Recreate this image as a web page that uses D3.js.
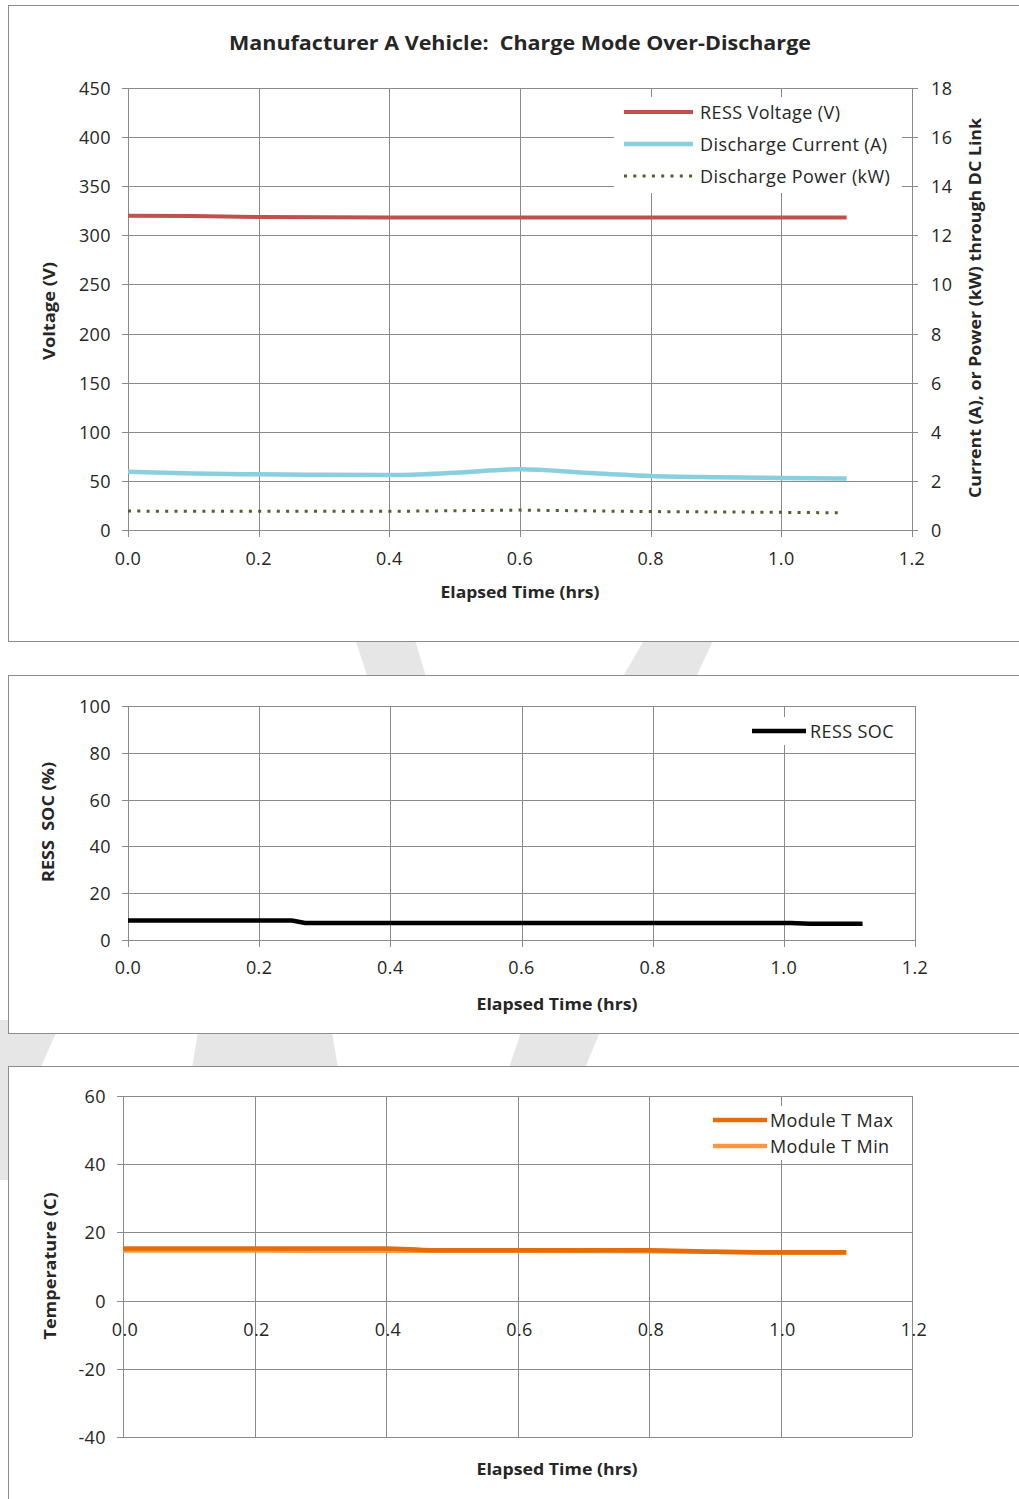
<!DOCTYPE html>
<html><head><meta charset="utf-8">
<script src="https://cdn.jsdelivr.net/npm/d3@7"></script>
<style>
html,body{margin:0;padding:0;background:#fff;}
svg{display:block;font-family:"Open Sans",sans-serif;}
text{white-space:pre;}
</style></head>
<body><svg id="c" width="1019" height="1499"></svg>
<script>
// ---- Data ----
const xTicks = [0, 0.2, 0.4, 0.6, 0.8, 1.0, 1.2];

const timeV = [0, 0.1, 0.2, 0.3, 0.4, 0.5, 0.6, 0.7, 0.8, 0.9, 1.0, 1.1];
const ressVoltage = [320, 319.7, 318.6, 318.3, 318.2, 318.2, 318.2, 318.2, 318.2, 318.2, 318.2, 318.2];
const dischargeCurrent = [2.37, 2.3, 2.27, 2.25, 2.24, 2.33, 2.47, 2.33, 2.2, 2.15, 2.12, 2.1];
const timeP = [0, 0.2, 0.4, 0.6, 0.8, 1.0, 1.09];
const dischargePower = [0.77, 0.76, 0.76, 0.81, 0.75, 0.72, 0.70];
const voltTicks = [0, 50, 100, 150, 200, 250, 300, 350, 400, 450];
const rightTicks = [0, 2, 4, 6, 8, 10, 12, 14, 16, 18];

const timeSOC = [0, 0.25, 0.27, 1.01, 1.04, 1.12];
const ressSOC = [8.3, 8.3, 7.3, 7.3, 6.9, 6.9];
const socTicks = [0, 20, 40, 60, 80, 100];

const timeT = [0, 0.2, 0.4, 0.47, 0.6, 0.8, 0.9, 1.0, 1.1];
const moduleTMax = [15.3, 15.3, 15.3, 14.8, 14.8, 14.8, 14.3, 14.2, 14.2];
const moduleTMin = [14.7, 14.7, 14.6, 14.6, 14.6, 14.5, 14.3, 14.0, 14.0];
const tempTicks = [-40, -20, 0, 20, 40, 60];

const svg = d3.select("#c");
const GRID = "#8a8a8a", TXT = "#262626";
const fmt1 = d3.format(".1f");

// ---- watermark (faint) ----
const wm = svg.append("g").attr("fill", "#e6e6e6");
[
  [[352,630],[412,630],[430,690],[372,690]],
  [[650,630],[718,630],[690,690],[615,690]],
  [[0,1020],[62,1020],[35,1080],[0,1080]],
  [[200,1020],[330,1020],[340,1080],[190,1080]],
  [[525,1020],[605,1020],[580,1080],[505,1080]],
  [[0,1066],[12,1066],[12,1180],[0,1180]]
].forEach(p => wm.append("polygon").attr("points", p.map(d => d.join(",")).join(" ")));

function panel(y0, h) {
  svg.append("rect").attr("x", 8.5).attr("y", y0 + 0.5).attr("width", 1030).attr("height", h)
    .attr("fill", "#fff").attr("stroke", "#8c8c8c").attr("stroke-width", 1);
}
panel(5, 636);
panel(675, 358);
panel(1066, 440);

function grid(g, x, y, xt, yt, tickLen) {
  const [x0, x1] = x.range(), [yb, yt0] = y.range();
  g.selectAll(".vg").data(xt).join("line").attr("class", "vg")
    .attr("x1", d => Math.round(x(d)) + 0.5).attr("x2", d => Math.round(x(d)) + 0.5)
    .attr("y1", yt0).attr("y2", yb + tickLen).attr("stroke", GRID);
  g.selectAll(".hg").data(yt).join("line").attr("class", "hg")
    .attr("y1", d => Math.round(y(d)) + 0.5).attr("y2", d => Math.round(y(d)) + 0.5)
    .attr("x1", x0 - 6).attr("x2", x1).attr("stroke", GRID);
}

function label(x, y, text, opts = {}) {
  const t = svg.append("text").attr("x", x).attr("y", y).text(text)
    .attr("fill", TXT).attr("font-size", opts.size || 18)
    .attr("text-anchor", opts.anchor || "middle").attr("dominant-baseline", "central");
  if (!opts.bold && !opts.len) t.attr("letter-spacing", 0.4);
  if (opts.bold) t.attr("font-weight", "bold");
  if (opts.rot) t.attr("transform", `rotate(-90,${x},${y})`);
  if (opts.len) t.attr("textLength", opts.len).attr("lengthAdjust", "spacingAndGlyphs");
  return t;
}

// ===== Chart 1 =====
{
  const x = d3.scaleLinear().domain([0, 1.2]).range([128, 912]);
  const yL = d3.scaleLinear().domain([0, 450]).range([530, 88]);
  const yR = d3.scaleLinear().domain([0, 18]).range([530, 88]);
  const g = svg.append("g");
  grid(g, x, yL, xTicks, voltTicks, 7);
  g.selectAll(".rt").data(rightTicks).join("line")
    .attr("x1", 912).attr("x2", 918)
    .attr("y1", d => Math.round(yR(d)) + 0.5).attr("y2", d => Math.round(yR(d)) + 0.5).attr("stroke", GRID);
  xTicks.forEach(v => label(x(v), 558, fmt1(v)));
  voltTicks.forEach(v => label(111, yL(v), v, {anchor: "end"}));
  rightTicks.forEach(v => label(931, yR(v), v, {anchor: "start"}));
  label(520, 42, "Manufacturer A Vehicle:  Charge Mode Over-Discharge", {bold: true, size: 20, len: 582});
  label(520, 592, "Elapsed Time (hrs)", {bold: true, size: 16, len: 159});
  label(49, 311, "Voltage (V)", {bold: true, size: 16, rot: true, len: 98});
  label(975, 308, "Current (A), or Power (kW) through DC Link", {bold: true, size: 16, rot: true, len: 380});

  const lv = d3.line().x((d, i) => x(timeV[i])).y(d => yL(d));
  g.append("path").datum(ressVoltage).attr("d", lv).attr("fill", "none")
    .attr("stroke", "#C0504D").attr("stroke-width", 4);
  const lc = d3.line().x((d, i) => x(timeV[i])).y(d => yR(d)).curve(d3.curveMonotoneX);
  g.append("path").datum(dischargeCurrent).attr("d", lc).attr("fill", "none")
    .attr("stroke", "#8ACFDE").attr("stroke-width", 4.5);
  const lp = d3.line().x((d, i) => x(timeP[i])).y(d => yR(d));
  g.append("path").datum(dischargePower).attr("d", lp).attr("fill", "none")
    .attr("stroke", "#4F6228").attr("stroke-width", 3).attr("stroke-dasharray", "3,6.3");

  const lg = svg.append("g");
  lg.append("rect").attr("x", 614).attr("y", 97).attr("width", 288).attr("height", 96).attr("fill", "#fff");
  const items = [["RESS Voltage (V)", "#C0504D", null, 4], ["Discharge Current (A)", "#8ACFDE", null, 4.5], ["Discharge Power (kW)", "#4F6228", "3,6.3", 3]];
  items.forEach((it, i) => {
    const yy = 112 + i * 32;
    const ln = lg.append("line").attr("x1", 624).attr("x2", 693).attr("y1", yy).attr("y2", yy)
      .attr("stroke", it[1]).attr("stroke-width", it[3]);
    if (it[2]) ln.attr("stroke-dasharray", it[2]);
    label(700, yy, it[0], {anchor: "start"});
  });
}

// ===== Chart 2 =====
{
  const x = d3.scaleLinear().domain([0, 1.2]).range([128, 915]);
  const y = d3.scaleLinear().domain([0, 100]).range([940, 706]);
  const g = svg.append("g");
  grid(g, x, y, xTicks, socTicks, 7);
  xTicks.forEach(v => label(x(v), 967, fmt1(v)));
  socTicks.forEach(v => label(111, y(v), v, {anchor: "end"}));
  label(557, 1004, "Elapsed Time (hrs)", {bold: true, size: 16, len: 161});
  label(48, 822, "RESS  SOC (%)", {bold: true, size: 16, rot: true, len: 120});
  const l = d3.line().x((d, i) => x(timeSOC[i])).y(d => y(d));
  g.append("path").datum(ressSOC).attr("d", l).attr("fill", "none")
    .attr("stroke", "#000").attr("stroke-width", 4.5);
  svg.append("rect").attr("x", 745).attr("y", 717).attr("width", 160).attr("height", 28).attr("fill", "#fff");
  svg.append("line").attr("x1", 752).attr("x2", 806).attr("y1", 731).attr("y2", 731)
    .attr("stroke", "#000").attr("stroke-width", 4.5);
  label(810, 731, "RESS SOC", {anchor: "start"});
}

// ===== Chart 3 =====
{
  const x = d3.scaleLinear().domain([0, 1.2]).range([123, 912]);
  const y = d3.scaleLinear().domain([-40, 60]).range([1437, 1096]);
  const g = svg.append("g");
  grid(g, x, y, xTicks, tempTicks, 0);
  g.selectAll(".xt").data(xTicks).join("line")
    .attr("x1", d => Math.round(x(d)) + 0.5).attr("x2", d => Math.round(x(d)) + 0.5)
    .attr("y1", y(0)).attr("y2", y(0) + 6).attr("stroke", GRID);
  xTicks.forEach(v => label(x(v) + 2, 1329, fmt1(v)));
  tempTicks.forEach(v => label(106, y(v), v, {anchor: "end"}));
  label(557, 1469, "Elapsed Time (hrs)", {bold: true, size: 16, len: 161});
  label(50, 1266, "Temperature (C)", {bold: true, size: 16, rot: true, len: 147});
  const lt = d3.line().x((d, i) => x(timeT[i])).y(d => y(d)).curve(d3.curveMonotoneX);
  g.append("path").datum(moduleTMin).attr("d", lt).attr("fill", "none")
    .attr("stroke", "#F79646").attr("stroke-width", 4.5);
  g.append("path").datum(moduleTMax).attr("d", lt).attr("fill", "none")
    .attr("stroke", "#E46C0A").attr("stroke-width", 4.5);
  svg.append("rect").attr("x", 706).attr("y", 1106).attr("width", 196).attr("height", 54).attr("fill", "#fff");
  [["Module T Max", "#E46C0A"], ["Module T Min", "#F79646"]].forEach((it, i) => {
    const yy = 1120 + i * 26;
    svg.append("line").attr("x1", 713).attr("x2", 767).attr("y1", yy).attr("y2", yy)
      .attr("stroke", it[1]).attr("stroke-width", 4.5);
    label(770, yy, it[0], {anchor: "start"});
  });
}
</script></body></html>
